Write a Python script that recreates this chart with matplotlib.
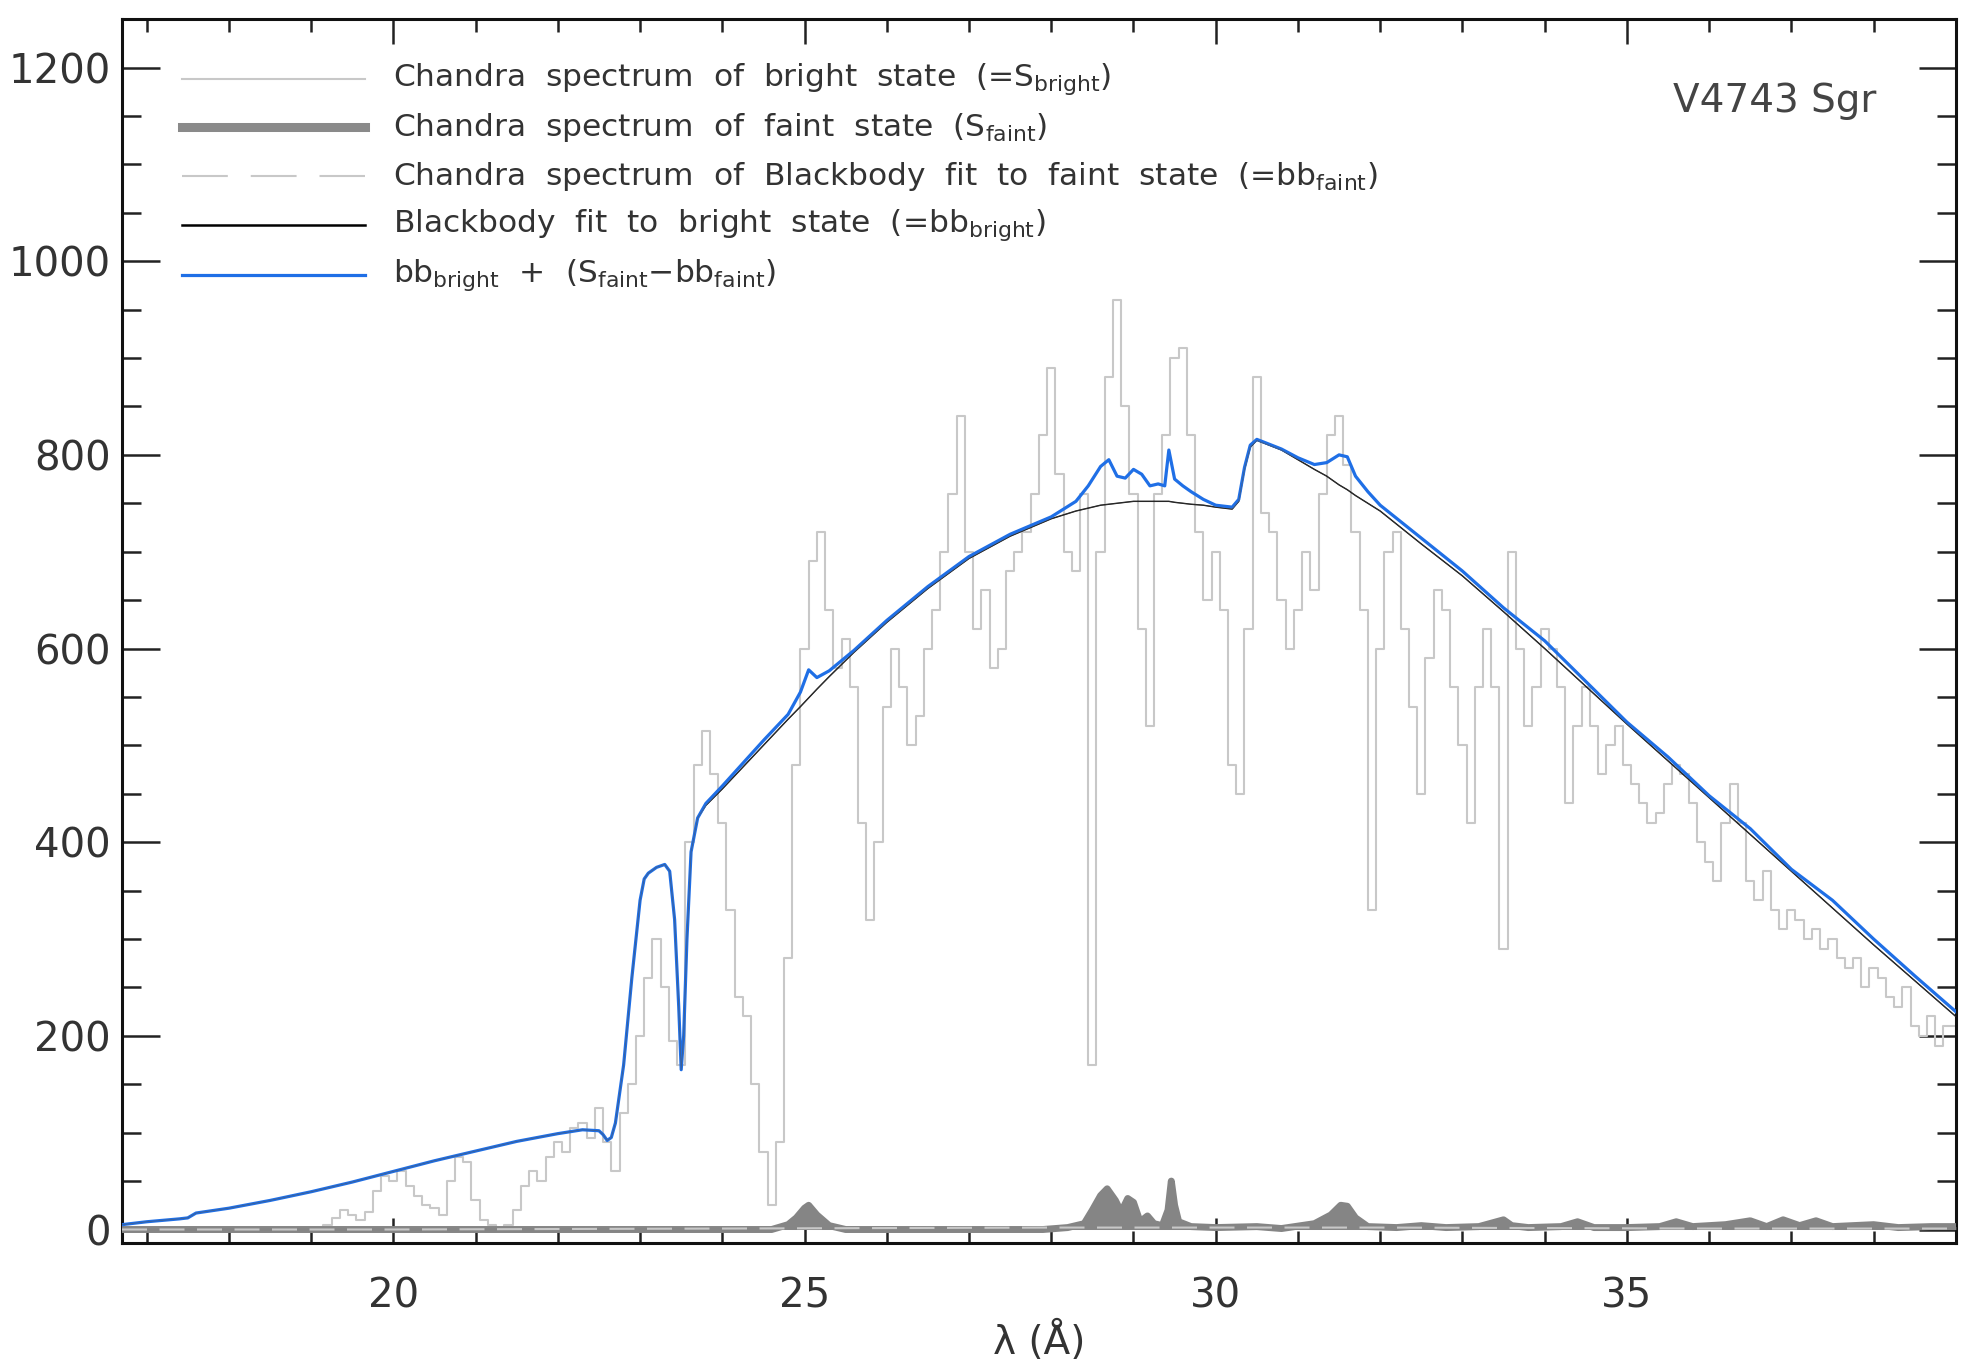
import numpy as np
import matplotlib
matplotlib.use("Agg")
import matplotlib.pyplot as plt
from matplotlib.ticker import MultipleLocator

plt.rcParams['font.family'] = ['DejaVu Sans']
plt.rcParams['mathtext.fontset'] = 'dejavusans'

# ---- data ----
# bright state spectrum, 0.1 A bins from 19.0 to 39.0
bright_wave = np.round(np.arange(19.0, 39.05, 0.1), 2)
bright_flux = [
    0, 0, 5, 12, 20, 15, 10, 18, 40, 55,
    50, 60, 45, 35, 25, 22, 15, 50, 75, 70,
    30, 10, 5, 0, 5, 20, 45, 60, 50, 75,
    90, 80, 105, 110, 95, 125, 90, 60, 120, 150,
    200, 260, 300, 250, 195, 170, 400, 480, 515, 470,
    420, 330, 240, 220, 150, 80, 25, 90, 280, 480,
    600, 690, 720, 640, 580, 610, 560, 420, 320, 400,
    540, 600, 560, 500, 530, 600, 640, 700, 760, 840,
    700, 620, 660, 580, 600, 680, 700, 720, 760, 820,
    890, 780, 700, 680, 760, 170, 700, 880, 960, 850,
    760, 620, 520, 760, 820, 900, 910, 820, 720, 650,
    700, 640, 480, 450, 620, 880, 740, 720, 650, 600,
    640, 700, 660, 760, 820, 840, 790, 720, 640, 330,
    600, 700, 720, 620, 540, 450, 590, 660, 640, 560,
    500, 420, 560, 620, 560, 290, 700, 600, 520, 560,
    620, 600, 560, 440, 520, 560, 520, 470, 500, 520,
    480, 460, 440, 420, 430, 460, 480, 470, 440, 400,
    380, 360, 420, 460, 420, 360, 340, 370, 330, 310,
    330, 320, 300, 310, 290, 300, 280, 270, 280, 250,
    270, 260, 240, 230, 250, 210, 200, 220, 190, 210,
    210,
]

# faint state spectrum
faint_wave = [16.7, 24.6, 24.8, 24.9, 25.0, 25.05, 25.15, 25.3, 25.5, 27.9,
              28.2, 28.4, 28.5, 28.6, 28.68, 28.78, 28.85, 28.93, 29.0, 29.08,
              29.17, 29.25, 29.35, 29.42, 29.46, 29.5, 29.55, 29.7, 30.0, 30.5,
              30.8, 31.2, 31.4, 31.52, 31.6, 31.7, 31.85, 32.2, 32.5, 32.8,
              33.2, 33.5, 33.6, 33.8, 34.2, 34.4, 34.6, 35.0, 35.4, 35.6,
              35.8, 36.2, 36.5, 36.7, 36.9, 37.1, 37.3, 37.5, 38.0, 38.3,
              38.7, 39.0]
faint_flux = [0, 0, 5, 12, 22, 25, 15, 4, 0, 0,
              2, 6, 20, 35, 42, 30, 18, 32, 28, 8,
              14, 6, 4, 20, 50, 25, 8, 3, 2, 3,
              1, 6, 15, 25, 24, 12, 3, 2, 4, 2,
              3, 10, 4, 2, 3, 8, 2, 2, 3, 8,
              3, 5, 9, 3, 10, 4, 9, 3, 5, 2,
              3, 3]

# blackbody fit to faint state
bbf_wave = [16.7, 20.0, 24.0, 28.0, 30.0, 32.0, 36.0, 39.0]
bbf_flux = [0, 0, 1, 2, 2, 2, 1, 1]

# model grid for bb_bright and bb_bright + (S_faint - bb_faint)
model_wave = [16.7, 17.0, 17.4, 17.5, 17.6, 18.0, 18.5, 19.0, 19.5, 20.0,
              20.5, 21.0, 21.5, 22.0, 22.3, 22.5, 22.55, 22.6, 22.65, 22.7,
              22.8, 22.9, 23.0, 23.05, 23.1, 23.2, 23.3, 23.36, 23.42, 23.47,
              23.5, 23.53, 23.57, 23.62, 23.7, 23.8, 24.0, 24.5, 24.8, 24.95,
              25.05, 25.15, 25.3, 25.6, 26.0, 26.5, 27.0, 27.5, 28.0, 28.3,
              28.45, 28.6, 28.7, 28.8, 28.9, 29.0, 29.1, 29.2, 29.3, 29.38,
              29.43, 29.5, 29.6, 29.7, 29.85, 30.0, 30.2, 30.28, 30.35, 30.42,
              30.5, 30.8, 31.0, 31.2, 31.35, 31.5, 31.6, 31.7, 31.85, 32.0,
              32.5, 33.0, 33.5, 34.0, 34.5, 35.0, 35.5, 36.0, 36.5, 37.0,
              37.5, 38.0, 38.5, 39.0]
bb_bright = [5, 8, 11, 12, 17, 22, 30, 39, 49, 60,
             71, 81, 91, 99, 103, 102, 98, 92, 95, 110,
             170, 260, 340, 362, 368, 374, 377, 370, 320, 230,
             165, 200, 300, 390, 425, 438, 455, 500, 527, 540,
             549, 558, 571, 596, 627, 662, 693, 716, 734, 742,
             745, 748, 749, 750, 751, 752, 752, 752, 752, 752,
             752, 751, 750, 749, 748, 746, 744, 752, 785, 808,
             815, 805, 795, 785, 778, 769, 764, 758, 750, 742,
             708, 675, 638, 600, 561, 522, 484, 446, 408, 370,
             332, 294, 257, 220]
bb_plus_resid = [5, 8, 11, 12, 17, 22, 30, 39, 49, 60,
                 71, 81, 91, 99, 103, 102, 98, 92, 95, 110,
                 170, 260, 340, 362, 368, 374, 377, 370, 320, 230,
                 165, 200, 300, 390, 425, 440, 458, 505, 532, 555,
                 578, 570, 577, 598, 629, 664, 695, 718, 736, 752,
                 768, 788, 795, 778, 776, 785, 780, 768, 770, 768,
                 805, 775, 768, 762, 754, 748, 746, 754, 787, 810,
                 816, 806, 797, 790, 792, 800, 798, 778, 762, 748,
                 714, 680, 642, 608, 566, 524, 488, 448, 414, 372,
                 340, 300, 262, 225]

# ---- plot ----
fig = plt.figure(figsize=(19.71, 13.66), dpi=100)
ax = fig.add_axes([0.0619, 0.090, 0.9304, 0.896])

light = '#c8c8c8'
ax.step(bright_wave, bright_flux, where='mid', color=light, lw=1.5, zorder=2)
ax.fill_between(faint_wave, 0, faint_flux, color='#858585', lw=0, zorder=3)
ax.plot(faint_wave, faint_flux, color='#858585', lw=5, zorder=3)
ax.plot(bbf_wave, bbf_flux, color=light, lw=1.5, ls=(0, (12, 6)), zorder=3)
ax.plot(model_wave, bb_bright, color='black', lw=1.0, zorder=4)
ax.plot(model_wave, bb_plus_resid, color='#1f6fe6', lw=2.3, zorder=5)
ax.plot(model_wave, bb_bright, color='#555555', lw=0.6, zorder=6, alpha=0.6)

ax.set_xlim(16.7, 39.0)
ax.set_ylim(-14, 1250)
ax.xaxis.set_major_locator(MultipleLocator(5))
ax.xaxis.set_minor_locator(MultipleLocator(1))
ax.yaxis.set_major_locator(MultipleLocator(200))
ax.yaxis.set_minor_locator(MultipleLocator(50))

ax.tick_params(axis='both', which='both', direction='in', top=True, right=True,
               colors='#222222', labelcolor='#333333', width=1.8)
ax.tick_params(axis='x', which='major', length=18, pad=24, labelsize=29)
ax.tick_params(axis='x', which='minor', length=9)
ax.tick_params(axis='y', which='major', length=27, pad=8, labelsize=29)
ax.tick_params(axis='y', which='minor', length=14)
for sp in ax.spines.values():
    sp.set_linewidth(2.2)
    sp.set_color('#111111')

ax.set_xlabel('λ (Å)', fontsize=28, color='#333333', va='center')
ax.xaxis.set_label_coords(0.5, -0.080)

fig.text(0.9005, 0.926, 'V4743 Sgr', fontsize=28,
         color='#444444', ha='center', va='center')

# legend drawn by hand
leg_rows = [0.942, 0.907, 0.871, 0.835, 0.799]
leg_labels = [
    r'Chandra  spectrum  of  bright  state  (=S$_{\rm bright}$)',
    r'Chandra  spectrum  of  faint  state  (S$_{\rm faint}$)',
    r'Chandra  spectrum  of  Blackbody  fit  to  faint  state  (=bb$_{\rm faint}$)',
    r'Blackbody  fit  to  bright  state  (=bb$_{\rm bright}$)',
    r'bb$_{\rm bright}$  +  (S$_{\rm faint}$$-$bb$_{\rm faint}$)',
]
leg_styles = [
    dict(color=light, lw=1.5),
    dict(color='#8a8a8a', lw=6.5),
    dict(color=light, lw=1.5, ls=(0, (22, 11))),
    dict(color='black', lw=1.8),
    dict(color='#1f6fe6', lw=2.3),
]
for yy, lab, st in zip(leg_rows, leg_labels, leg_styles):
    fig.add_artist(plt.Line2D([0.0923, 0.1852], [yy, yy], transform=fig.transFigure, **st))
    fig.text(0.1994, yy, lab, fontsize=22.5, color='#333333', va='center', ha='left')

fig.savefig('out.png', dpi=100, facecolor='white')
